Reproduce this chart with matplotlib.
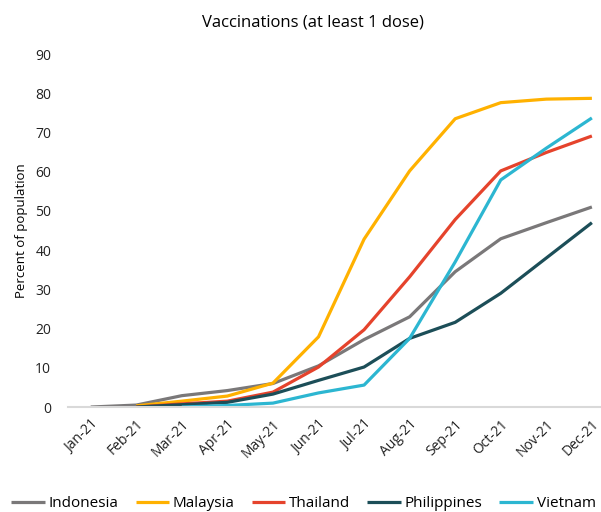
import numpy as np
import matplotlib
matplotlib.use("Agg")
import matplotlib.pyplot as plt

plt.rcParams['font.family'] = ['Open Sans', 'DejaVu Sans']

months = ['Jan-21', 'Feb-21', 'Mar-21', 'Apr-21', 'May-21', 'Jun-21',
          'Jul-21', 'Aug-21', 'Sep-21', 'Oct-21', 'Nov-21', 'Dec-21']
nan = np.nan
indonesia = [0, 0.5, 2.9, 4.2, 6.0, 10.5, 17.2, 23.0, 34.5, 42.9, 47.0, 51.0]
malaysia = [nan, 0.3, 1.5, 2.8, 6.1, 17.9, 42.8, 60.2, 73.5, 77.6, 78.5, 78.7]
thailand = [nan, 0.0, 0.8, 1.5, 3.8, 10.2, 19.7, 33.2, 47.8, 60.2, 64.9, 69.1]
philippines = [nan, 0.0, 0.6, 1.2, 3.3, 6.8, 10.2, 17.5, 21.6, 29.0, 38.0, 47.0]
vietnam = [nan, nan, 0.0, 0.4, 1.0, 3.6, 5.6, 17.5, 37.0, 57.9, 66.0, 73.7]

series = [('Indonesia', indonesia, '#7a7879'),
          ('Malaysia', malaysia, '#ffb100'),
          ('Thailand', thailand, '#e5432c'),
          ('Philippines', philippines, '#1c4e58'),
          ('Vietnam', vietnam, '#2cb6d1')]

fig = plt.figure(figsize=(6.01, 5.12), dpi=100)
ax = fig.add_axes([0.113, 0.205, 0.887, 0.6895])
x = np.arange(len(months))
for name, vals, col in series:
    ax.plot(x, vals, color=col, lw=2.3, label=name, solid_capstyle='butt')

ax.set_xlim(-0.5, 11.2)
ax.set_ylim(0, 90)
ax.set_yticks(np.arange(0, 91, 10))
ax.set_xticks(x)
ax.set_xticklabels(months, rotation=45, ha='right', rotation_mode='anchor')
ax.tick_params(axis='both', length=0, labelsize=10, colors='#222222')
ax.tick_params(axis='x', pad=7)
ax.tick_params(axis='y', pad=12)
for s in ['top', 'right', 'left']:
    ax.spines[s].set_visible(False)
ax.spines['bottom'].set_color('#d9d9d9')
ax.spines['bottom'].set_linewidth(1.5)
ax.set_ylabel('Percent of population', fontsize=9.5, labelpad=5)
fig.text(0.52, 0.957, 'Vaccinations (at least 1 dose)', ha='center', va='center', fontsize=12)
fig.legend(loc='center', bbox_to_anchor=(0.505, 0.016), ncol=5, frameon=False,
           fontsize=11, handlelength=2.2, columnspacing=1.1, handletextpad=0.25)
fig.savefig('out.png', dpi=100)
